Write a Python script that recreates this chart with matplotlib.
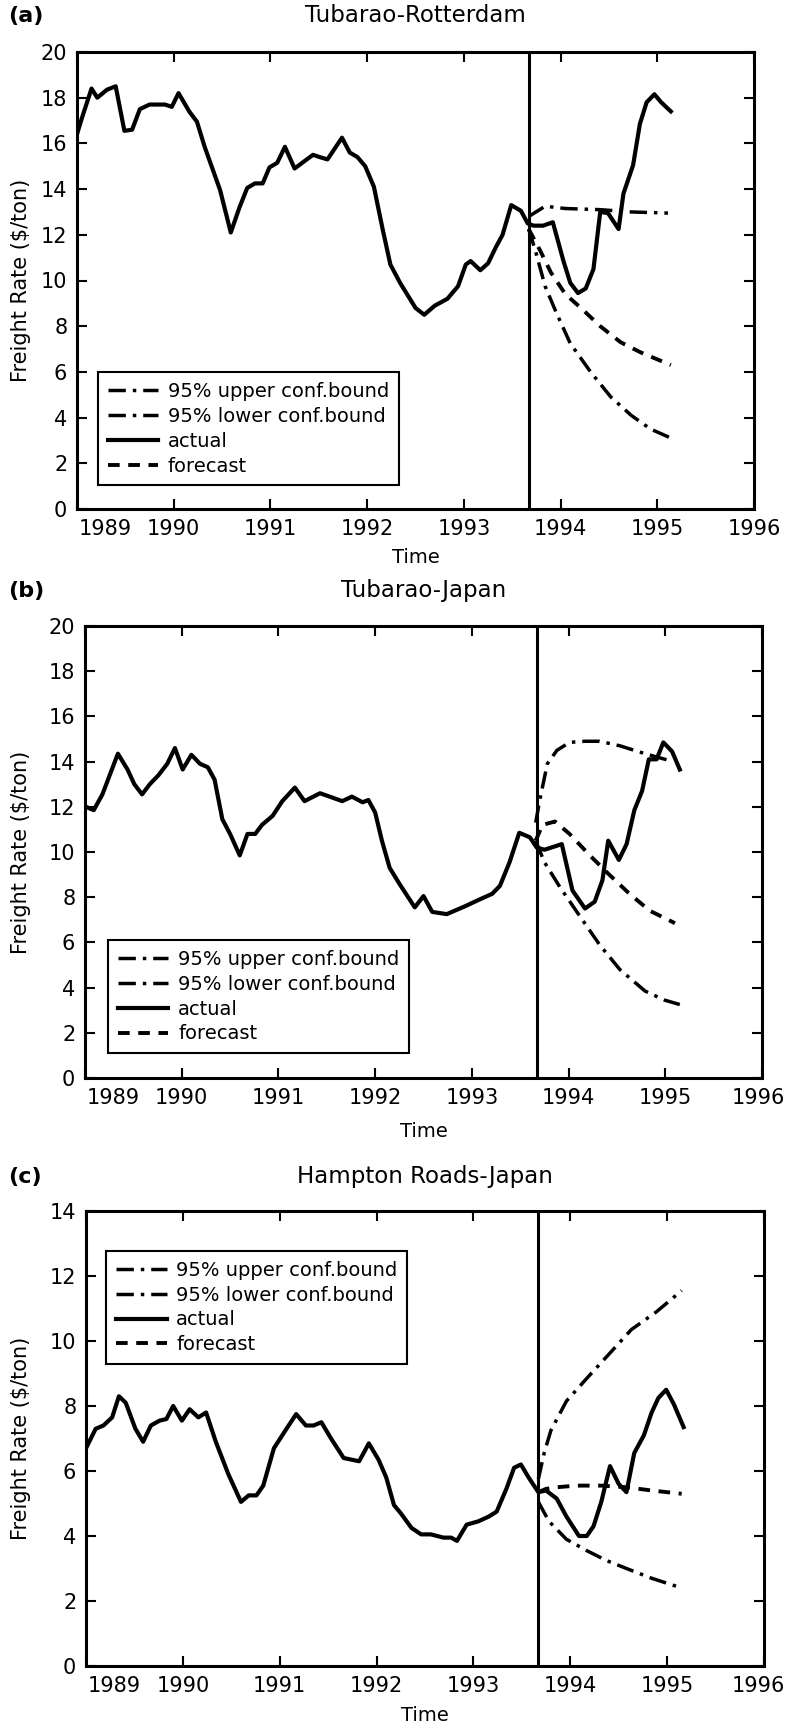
import matplotlib
matplotlib.use("Agg")
import matplotlib.pyplot as plt
from matplotlib.transforms import ScaledTranslation

# ---- data (decimal year, freight rate $/ton) ----
years = [1989, 1990, 1991, 1992, 1993, 1994, 1995, 1996]
split_year = 1993.67

a_actual = [(1989.00, 16.4), (1989.05, 17.1), (1989.15, 18.4), (1989.21, 18.0), (1989.31, 18.35),
            (1989.40, 18.5), (1989.49, 16.55), (1989.57, 16.6), (1989.65, 17.5), (1989.75, 17.7),
            (1989.91, 17.7), (1989.98, 17.6), (1990.05, 18.2), (1990.16, 17.4), (1990.24, 16.95),
            (1990.32, 15.85), (1990.48, 13.95), (1990.59, 12.1), (1990.68, 13.2), (1990.76, 14.05),
            (1990.84, 14.25), (1990.92, 14.25), (1990.99, 14.95), (1991.07, 15.15), (1991.15, 15.85),
            (1991.25, 14.9), (1991.36, 15.25), (1991.44, 15.5), (1991.51, 15.4), (1991.59, 15.3),
            (1991.74, 16.25), (1991.82, 15.6), (1991.90, 15.4), (1991.98, 15.0), (1992.07, 14.1),
            (1992.16, 12.25), (1992.24, 10.7), (1992.34, 9.9), (1992.50, 8.8), (1992.59, 8.5),
            (1992.70, 8.9), (1992.83, 9.2), (1992.94, 9.75), (1993.02, 10.7), (1993.07, 10.85),
            (1993.17, 10.45), (1993.25, 10.75), (1993.33, 11.45), (1993.40, 12.0), (1993.49, 13.3),
            (1993.59, 13.05), (1993.66, 12.5), (1993.72, 12.4), (1993.82, 12.4), (1993.92, 12.55),
            (1994.03, 10.85), (1994.10, 9.9), (1994.18, 9.45), (1994.26, 9.65), (1994.34, 10.5),
            (1994.41, 13.0), (1994.49, 12.95), (1994.60, 12.25), (1994.65, 13.8), (1994.75, 15.05),
            (1994.82, 16.85), (1994.89, 17.8), (1994.97, 18.15), (1995.04, 17.8), (1995.14, 17.4)]
a_forecast = [(1993.67, 12.25), (1993.79, 11.3), (1993.90, 10.35), (1994.05, 9.4), (1994.21, 8.8),
              (1994.41, 8.0), (1994.62, 7.3), (1994.83, 6.85), (1995.14, 6.3)]
a_upper = [(1993.67, 12.8), (1993.84, 13.25), (1994.05, 13.15), (1994.41, 13.1), (1994.73, 13.0),
           (1995.11, 12.95)]
a_lower = [(1993.67, 12.25), (1993.74, 11.3), (1993.84, 9.75), (1993.95, 8.65), (1994.10, 7.25),
           (1994.31, 6.0), (1994.52, 4.9), (1994.73, 4.1), (1994.93, 3.5), (1995.17, 3.05)]

b_actual = [(1989.01, 12.0), (1989.09, 11.85), (1989.18, 12.55), (1989.34, 14.35), (1989.44, 13.65),
            (1989.51, 13.0), (1989.59, 12.55), (1989.67, 13.0), (1989.76, 13.4), (1989.85, 13.9),
            (1989.93, 14.6), (1990.01, 13.65), (1990.10, 14.3), (1990.19, 13.9), (1990.27, 13.75),
            (1990.34, 13.2), (1990.42, 11.45), (1990.50, 10.8), (1990.60, 9.85), (1990.68, 10.8),
            (1990.76, 10.8), (1990.83, 11.2), (1990.94, 11.6), (1991.04, 12.25), (1991.17, 12.85),
            (1991.27, 12.25), (1991.43, 12.6), (1991.53, 12.45), (1991.66, 12.25), (1991.76, 12.45),
            (1991.87, 12.2), (1991.93, 12.3), (1992.00, 11.75), (1992.07, 10.5), (1992.15, 9.3),
            (1992.25, 8.6), (1992.41, 7.55), (1992.50, 8.05), (1992.59, 7.35), (1992.74, 7.25),
            (1992.93, 7.6), (1993.08, 7.9), (1993.21, 8.15), (1993.29, 8.5), (1993.39, 9.55),
            (1993.49, 10.85), (1993.60, 10.65), (1993.67, 10.2), (1993.75, 10.1), (1993.86, 10.25),
            (1993.93, 10.35), (1994.04, 8.3), (1994.17, 7.5), (1994.27, 7.8), (1994.35, 8.75),
            (1994.41, 10.5), (1994.52, 9.65), (1994.60, 10.35), (1994.68, 11.85), (1994.76, 12.7),
            (1994.83, 14.1), (1994.91, 14.1), (1994.98, 14.85), (1995.07, 14.45), (1995.15, 13.65)]
b_forecast = [(1993.66, 10.5), (1993.73, 11.2), (1993.86, 11.35), (1994.01, 10.8), (1994.22, 9.85),
              (1994.42, 9.0), (1994.63, 8.15), (1994.84, 7.4), (1995.10, 6.85)]
b_upper = [(1993.66, 11.3), (1993.70, 12.25), (1993.78, 13.9), (1993.88, 14.5), (1994.01, 14.85),
           (1994.17, 14.9), (1994.32, 14.9), (1994.53, 14.7), (1994.79, 14.35), (1995.04, 14.05)]
b_lower = [(1993.66, 10.5), (1993.75, 9.55), (1993.91, 8.45), (1994.11, 7.2), (1994.32, 5.9),
           (1994.53, 4.8), (1994.79, 3.85), (1994.99, 3.45), (1995.15, 3.25)]

c_actual = [(1989.00, 6.7), (1989.10, 7.3), (1989.18, 7.4), (1989.27, 7.65), (1989.34, 8.3),
            (1989.41, 8.1), (1989.51, 7.3), (1989.59, 6.9), (1989.67, 7.4), (1989.76, 7.55),
            (1989.83, 7.6), (1989.90, 8.0), (1989.99, 7.55), (1990.07, 7.9), (1990.16, 7.65),
            (1990.24, 7.8), (1990.34, 6.9), (1990.47, 5.9), (1990.60, 5.05), (1990.68, 5.25),
            (1990.76, 5.25), (1990.83, 5.55), (1990.94, 6.7), (1991.07, 7.3), (1991.17, 7.75),
            (1991.27, 7.4), (1991.35, 7.4), (1991.43, 7.5), (1991.53, 7.0), (1991.66, 6.4),
            (1991.82, 6.3), (1991.92, 6.85), (1992.02, 6.35), (1992.10, 5.8), (1992.18, 4.95),
            (1992.25, 4.7), (1992.36, 4.25), (1992.46, 4.05), (1992.56, 4.05), (1992.69, 3.95),
            (1992.77, 3.95), (1992.83, 3.85), (1992.93, 4.35), (1993.05, 4.45), (1993.16, 4.6),
            (1993.24, 4.75), (1993.34, 5.45), (1993.42, 6.1), (1993.49, 6.2), (1993.57, 5.8),
            (1993.67, 5.35), (1993.75, 5.4), (1993.86, 5.15), (1993.96, 4.6), (1994.09, 4.0),
            (1994.17, 4.0), (1994.24, 4.3), (1994.32, 5.05), (1994.41, 6.15), (1994.50, 5.6),
            (1994.58, 5.35), (1994.66, 6.55), (1994.76, 7.1), (1994.84, 7.8), (1994.91, 8.25),
            (1994.99, 8.5), (1995.07, 8.05), (1995.17, 7.35)]
c_forecast = [(1993.67, 5.35), (1993.75, 5.45), (1993.86, 5.5), (1994.06, 5.55), (1994.32, 5.55),
              (1994.58, 5.5), (1994.84, 5.4), (1995.15, 5.3)]
c_upper = [(1993.67, 5.75), (1993.73, 6.55), (1993.80, 7.25), (1993.96, 8.15), (1994.17, 8.85),
           (1994.37, 9.5), (1994.63, 10.35), (1994.89, 10.9), (1995.15, 11.55)]
c_lower = [(1993.67, 5.05), (1993.78, 4.45), (1993.96, 3.9), (1994.17, 3.55), (1994.37, 3.25),
           (1994.58, 3.0), (1994.84, 2.7), (1995.15, 2.4)]

panels = [
    ("(a)", "Tubarao-Rotterdam", a_actual, a_forecast, a_upper, a_lower, 20),
    ("(b)", "Tubarao-Japan", b_actual, b_forecast, b_upper, b_lower, 20),
    ("(c)", "Hampton Roads-Japan", c_actual, c_forecast, c_upper, c_lower, 14),
]

# ---- layout in pixels: left, top, right, bottom of each axes; title y ----
W, H = 787, 1725
boxes = [(77, 52, 754, 509), (85, 626, 762, 1078), (86, 1211, 764, 1666)]
title_y = [16, 591, 1177]
legend_pos = [("lower left", (0.031, 0.052)), ("lower left", (0.034, 0.055)), ("upper left", (0.030, 0.912))]
xlabel_y = [-0.085, -0.098, -0.088]

plt.rcParams["font.family"] = "DejaVu Sans"
fig = plt.figure(figsize=(W / 100, H / 100), dpi=100)

bound_style = (0, (5, 2, 1, 2))
fc_style = (0, (3, 2.2))

for i, (tag, name, actual, fc, up, lo, ymax) in enumerate(panels):
    l, t, r, b = boxes[i]
    ax = fig.add_axes([l / W, 1 - b / H, (r - l) / W, (b - t) / H])

    ax.plot([p[0] for p in up], [p[1] for p in up], color="black", lw=2.5,
            linestyle=bound_style, label="95% upper conf.bound")
    ax.plot([p[0] for p in lo], [p[1] for p in lo], color="black", lw=2.5,
            linestyle=bound_style, label="95% lower conf.bound")
    ax.plot([p[0] for p in actual], [p[1] for p in actual], color="black", lw=3.0,
            label="actual")
    ax.plot([p[0] for p in fc], [p[1] for p in fc], color="black", lw=2.8,
            linestyle=fc_style, label="forecast")
    ax.axvline(split_year, color="black", lw=2.2)

    ax.set_xlim(1989, 1996)
    ax.set_ylim(0, ymax)
    ax.set_xticks(years)
    ax.set_xticklabels([str(y) for y in years])
    ax.set_yticks(range(0, ymax + 1, 2))
    ax.tick_params(direction="in", length=7, width=1.5, top=True, right=True,
                   labelsize=15, pad=7)
    for s in ax.spines.values():
        s.set_linewidth(2.2)

    # the 1989 label sits right of the axis corner in the original,
    # the 1996 label touches the right page edge
    labs = ax.get_xticklabels()
    labs[0].set_transform(labs[0].get_transform() + ScaledTranslation(0.28, 0, fig.dpi_scale_trans))
    labs[-1].set_transform(labs[-1].get_transform()
                           + ScaledTranslation(-max(0, r - 758) / 100, 0, fig.dpi_scale_trans))

    ax.set_ylabel("Freight Rate ($/ton)", fontsize=15)
    ax.yaxis.set_label_coords(-(l - 31) / (r - l), 0.5)
    ax.set_xlabel("Time", fontsize=14)
    ax.xaxis.set_label_coords(0.5, xlabel_y[i])

    loc, anchor = legend_pos[i]
    leg = ax.legend(loc=loc, bbox_to_anchor=anchor, fontsize=14, frameon=True, fancybox=False,
                    edgecolor="black", framealpha=1, handlelength=2.6, handletextpad=0.5,
                    labelspacing=0.3, borderpad=0.5, borderaxespad=0)
    leg.get_frame().set_linewidth(1.5)

    fig.text(8 / W, 1 - title_y[i] / H, tag, fontsize=16, fontweight="bold", va="center")
    fig.text((l + r) / 2 / W, 1 - title_y[i] / H, name, fontsize=16.5, ha="center", va="center")

fig.savefig("out.png", dpi=100)
